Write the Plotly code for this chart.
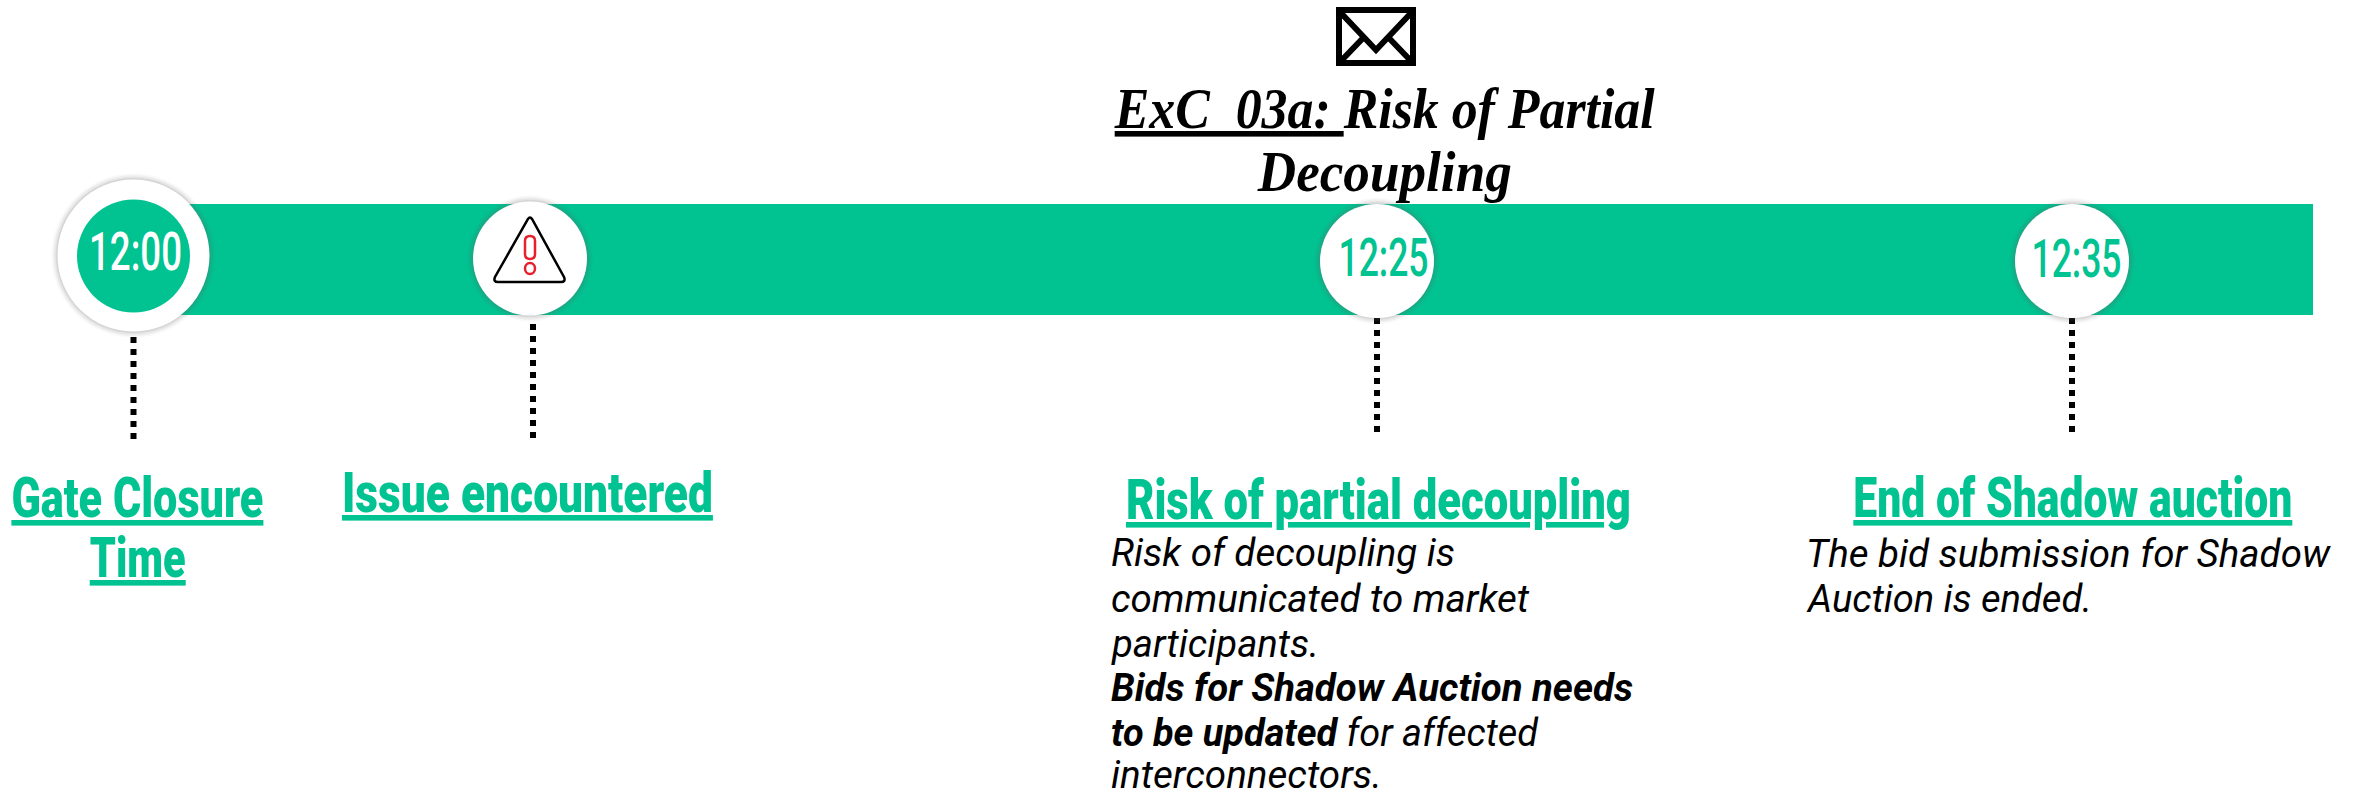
import json
import plotly.graph_objects as go

GREEN = "#00C391"
event_x = [133.5, 533, 1377, 2072]
dots_top = [337, 324, 318, 318]
dots_bottom = [440, 439, 433, 433]
clock_labels = ["12:00", "12:25", "12:35"]
heading_lines = [
    ("Gate Closure", 137, 523, "center"), ("Time", 137, 583, "center"),
    ("Issue encountered", 527.5, 518, "center"),
    ("Risk of partial decoupling", 1378.5, 525, "center"),
    ("End of Shadow auction", 2293, 523, "right"),
]
body_lines = [
    ("Risk of decoupling is", 1110, 570), ("communicated to market", 1110, 616),
    ("participants.", 1110, 661), ("<b>Bids for Shadow Auction needs</b>", 1110, 705),
    ("<b>to be updated</b> for affected", 1110, 750), ("interconnectors.", 1110, 792),
    ("The bid submission for Shadow", 1805, 571), ("Auction is ended.", 1805, 616),
]
title_lines = [("<u>ExC_03a: </u>Risk of Partial", 1384, 134), ("Decoupling", 1384, 197)]

# Rendered widths of each text run (the originals use condensed faces)
text_widths = {
    "Gate Closure": 252, "Time": 96, "Issue encountered": 371,
    "Risk of partial decoupling": 505, "End of Shadow auction": 439,
    "Risk of decoupling is": 344, "communicated to market": 418, "participants.": 207,
    "Bids for Shadow Auction needs": 522, "to be updated for affected": 427,
    "interconnectors.": 271, "The bid submission for Shadow": 524, "Auction is ended.": 284,
    "ExC_03a: Risk of Partial": 540, "Decoupling": 254,
    "12:00": 93, "12:25": 90, "12:35": 90,
}

fig = go.Figure()
shapes = [dict(type="rect", x0=133, x1=2313, y0=204, y1=315, fillcolor=GREEN, line_width=0, layer="below")]

def circle(cx, cy, r, color, op=1.0):
    return dict(type="circle", x0=cx - r, x1=cx + r, y0=cy - r, y1=cy + r,
                fillcolor=color, opacity=op, line_width=0)

centers = [(133.5, 255.5, 76), (530, 258.5, 57), (1377, 261, 57), (2072, 261, 57)]
for cx, cy, r in centers:
    for k, op in [(6, .04), (4.5, .06), (3, .08), (1.5, .12)]:
        shapes.append(circle(cx, cy, r + k, "#606060", op))
    shapes.append(circle(cx, cy, r, "white"))
shapes.append(circle(133.5, 256, 56.5, GREEN))

# warning icon
shapes.append(dict(type="path", path="M 528 219 Q 530 216 532 219 L 564 277 Q 566 282 561 282 L 498 282 Q 493 282 495 277 Z",
                   line=dict(color="black", width=2.5), fillcolor="white"))
shapes.append(dict(type="path", path="M 525 241 Q 525 236 530 236 Q 535 236 535 241 L 535 254 Q 535 259 530 259 Q 525 259 525 254 Z",
                   line=dict(color="#E8202E", width=2.5)))
shapes.append(dict(type="circle", x0=525, x1=535, y0=263, y1=274, line=dict(color="#E8202E", width=2.5)))
# envelope
shapes.append(dict(type="rect", x0=1339, x1=1413, y0=10, y1=63, line=dict(color="black", width=6), fillcolor="white"))
shapes.append(dict(type="path", path="M 1340 12 L 1376 50 L 1412 12 M 1340 62 L 1365 36 M 1412 62 L 1387 36",
                   line=dict(color="black", width=6)))

fig.update_layout(shapes=shapes)

for x, top, bottom in zip(event_x, dots_top, dots_bottom):
    fig.add_trace(go.Scatter(x=[x, x], y=[top, bottom], mode="lines", hoverinfo="skip",
                             line=dict(color="black", width=6, dash="6px,6px")))

ann = []
def label(text, x, base, size, family, color, anchor, weight=None):
    font = dict(family=family, size=size, color=color)
    if weight:
        font["weight"] = weight
    ann.append(dict(text=text, x=x, y=base - size * 0.44, xref="x", yref="y", xanchor=anchor, yanchor="middle",
                    align=anchor, showarrow=False, font=font, borderpad=0))

for t, x, b, a in heading_lines:
    label(f"<u>{t}</u>", x, b, 56, "Roboto", GREEN, a, 900)
for t, x, b in body_lines:
    label(f"<i>{t}</i>", x, b, 38, "Roboto", "black", "left")
for t, x, b in title_lines:
    label(f"<b><i>{t}</i></b>", x, b, 56, "Liberation Serif", "black", "center")
label(clock_labels[0], 135.5, 275, 54, "Roboto", "white", "center", 500)
label(clock_labels[1], 1383, 281, 54, "Roboto", GREEN, "center", 500)
label(clock_labels[2], 2076, 282, 54, "Roboto", GREEN, "center", 500)

fig.update_layout(
    width=2358, height=793, margin=dict(l=0, r=0, t=0, b=0), showlegend=False,
    paper_bgcolor="white", plot_bgcolor="white", annotations=ann,
    xaxis=dict(range=[0, 2358], visible=False, fixedrange=True),
    yaxis=dict(range=[793, 0], visible=False, fixedrange=True),
)
post = """
document.body.style.margin='0';document.body.style.overflow='hidden';
var w=%s;
document.querySelectorAll('.annotation-text').forEach(function(t){
  var k=t.textContent.trim();
  if(w[k]){
    t.setAttribute('textLength',w[k]);t.setAttribute('lengthAdjust','spacingAndGlyphs');
    var b=t.getBBox();
    t.parentNode.querySelectorAll('rect').forEach(function(r){
      r.setAttribute('x',b.x);r.setAttribute('width',b.width);
    });
  }
});
""" % json.dumps(text_widths)
fig.write_html("out.html", config=dict(displayModeBar=False), post_script=post)
